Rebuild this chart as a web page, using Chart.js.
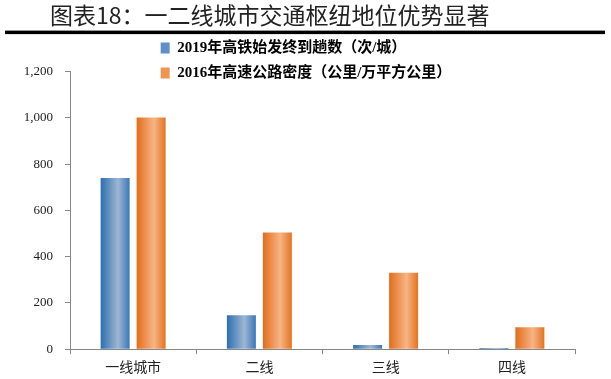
<!DOCTYPE html>
<html>
<head>
<meta charset="utf-8">
<script src="https://cdn.jsdelivr.net/npm/chart.js@4"></script>
<style>
  html, body { margin: 0; padding: 0; background: #fff; }
  canvas { display: block; }
</style>
</head>
<body>
<canvas id="myChart" width="611" height="379"></canvas>
<script>
const titleText = '图表18：一二线城市交通枢纽地位优势显著';

const categories = ['一线城市', '二线', '三线', '四线'];

// 2019年高铁始发终到趟数（次/城）
const trainTrips = [740, 147, 18, 5];
// 2016年高速公路密度（公里/万平方公里）
const highwayDensity = [1002, 505, 331, 95];

const seriesNames = ['2019年高铁始发终到趟数（次/城）', '2016年高速公路密度（公里/万平方公里）'];

const yTicks = { min: 0, max: 1200, step: 200 };

const CAT_PCT = 0.57;
const BAR_PCT = 0.806;

const blueStops = ['#2c6fb0', '#9db6d2', '#3a78b9'];
const orangeStops = ['#e26d19', '#f7b486', '#e3741f'];

const serif = '"Liberation Serif", "Noto Sans CJK SC", serif';

// horizontal gradient across each bar, like the office-style fill
function barFill(stops) {
  return (c) => {
    const chart = c.chart;
    const xs = chart.scales && chart.scales.x;
    if (c.type !== 'data' || !xs || !chart.chartArea) return stops[1];
    const slot = (xs.width / categories.length) * CAT_PCT / 2;
    const w = slot * BAR_PCT;
    const cx = xs.getPixelForValue(c.dataIndex) + (c.datasetIndex - 0.5) * slot;
    const g = chart.ctx.createLinearGradient(cx - w / 2, 0, cx + w / 2, 0);
    g.addColorStop(0, stops[0]);
    g.addColorStop(0.6, stops[1]);
    g.addColorStop(1, stops[2]);
    return g;
  };
}

// nudge title/legend boxes after layout (chart area already fixed)
const headerTweak = {
  id: 'headerTweak',
  afterLayout(chart) {
    chart.titleBlock.left += 45;
    chart.legend.left += 16;
    chart.legend.right += 16;
    chart.legend.bottom += 22;
  },
  afterDraw(chart) {
    const ctx = chart.ctx;
    const y = chart.titleBlock.bottom;
    ctx.save();
    ctx.fillStyle = '#000';
    ctx.fillRect(5, y, 600, 3.5);
    ctx.restore();
  }
};

new Chart(document.getElementById('myChart'), {
  type: 'bar',
  data: {
    labels: categories,
    datasets: [{
      label: seriesNames[0],
      data: trainTrips,
      backgroundColor: barFill(blueStops),
      categoryPercentage: CAT_PCT,
      barPercentage: BAR_PCT
    }, {
      label: seriesNames[1],
      data: highwayDensity,
      backgroundColor: barFill(orangeStops),
      categoryPercentage: CAT_PCT,
      barPercentage: BAR_PCT
    }]
  },
  options: {
    responsive: false,
    animation: false,
    devicePixelRatio: 1,
    layout: { padding: { left: 5, right: 36, top: 0, bottom: 0 } },
    plugins: {
      title: {
        display: true,
        text: titleText,
        align: 'start',
        color: '#222',
        font: { family: '"Noto Sans CJK SC", sans-serif', size: 23, weight: 'normal' },
        padding: { top: 1, bottom: 2 }
      },
      legend: {
        display: true,
        position: 'top',
        maxHeight: 41,
        labels: {
          boxWidth: 9,
          boxHeight: 11,
          padding: 10,
          color: '#000',
          font: { family: serif, size: 15, weight: 'bold' },
          generateLabels: () => [
            { text: seriesNames[0] + '\u3000\u3000\u3000  ', fillStyle: '#5f8fc4', strokeStyle: '#5f8fc4', lineWidth: 0, hidden: false, datasetIndex: 0 },
            { text: seriesNames[1], fillStyle: '#ef9550', strokeStyle: '#ef9550', lineWidth: 0, hidden: false, datasetIndex: 1 }
          ]
        }
      },
      tooltip: { enabled: false }
    },
    scales: {
      x: {
        grid: { display: true, drawOnChartArea: false, drawTicks: true, tickLength: 5, color: '#888', offset: true },
        border: { display: true, color: '#868686', width: 1 },
        ticks: { color: '#222', padding: 4, font: { family: '"Noto Sans CJK SC", sans-serif', size: 14 } }
      },
      y: {
        min: yTicks.min,
        max: yTicks.max,
        afterFit: (scale) => { scale.width = 65; },
        grid: { display: true, drawOnChartArea: false, drawTicks: true, tickLength: 5, color: '#888' },
        border: { display: true, color: '#868686', width: 1 },
        ticks: {
          stepSize: yTicks.step,
          color: '#222',
          padding: 12,
          font: { family: serif, size: 13 },
          callback: (v) => v.toLocaleString('en-US')
        }
      }
    }
  },
  plugins: [headerTweak]
});
</script>
</body>
</html>
